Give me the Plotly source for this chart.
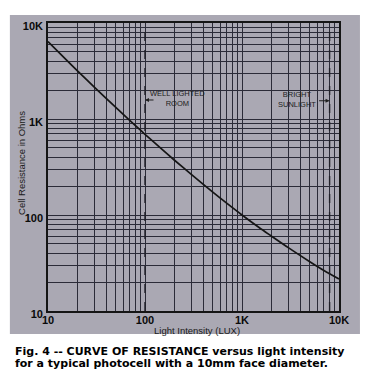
import plotly.graph_objects as go

# Data
lux = [10, 15, 20, 30, 50, 70, 100, 150, 200, 300, 500, 700,
       1000, 1500, 2000, 3000, 5000, 7000, 10000]
resistance = [6400, 4250, 3190, 2150, 1320, 960, 693, 482, 374, 265, 173, 132,
              100, 74, 60.5, 45.7, 32.6, 26.4, 21.5]

major_vals = [10, 100, 1000, 10000]
major_text = ["10", "100", "1K", "10K"]
minor_vals = [m * d for d in (10, 100, 1000) for m in range(2, 10)]

ref_lux = [100, 8000]
ref_labels = ["WELL LIGHTED<br>ROOM", "BRIGHT<br>SUNLIGHT"]

x_title = "Light Intensity (LUX)"
y_title = "Cell Resistance in Ohms"
caption_lines = ["Fig. 4 -- CURVE OF RESISTANCE versus light intensity",
                 "for a typical photocell with a 10mm face diameter."]

GRID = "#2b2b38"
PAPER = "#aaa8b3"

fig = go.Figure()
fig.add_trace(go.Scatter(
    x=lux, y=resistance, mode="lines",
    line=dict(color="#151515", width=1.7, shape="spline", smoothing=0.8),
    hoverinfo="skip", showlegend=False))

for xv in ref_lux:
    fig.add_vline(x=xv, line=dict(color="#202028", width=1.4, dash="dash"), layer="above")

axis_common = dict(
    type="log", range=[1, 4], tickmode="array", tickvals=major_vals,
    ticktext=["<b>%s</b>" % t for t in major_text],
    showgrid=True, gridcolor=GRID, gridwidth=1.2,
    showline=True, linecolor="#151515", linewidth=1.6, mirror=True,
    ticks="", zeroline=False, automargin=False,
    tickfont=dict(family="Liberation Sans", size=11, color="#0a0a0a"),
    minor=dict(tickvals=minor_vals, showgrid=True, gridcolor=GRID, gridwidth=1.1, ticks=""),
)

fig.update_xaxes(**axis_common, ticklabelstandoff=-2)
fig.update_yaxes(**axis_common, ticklabelstandoff=1, ticklabelshift=3)

# grey photographed page background
fig.add_shape(type="rect", xref="paper", yref="paper", x0=-0.131, x1=1.072, y0=-0.08, y1=1.028,
              fillcolor=PAPER, line=dict(width=0), layer="below")

# axis titles
fig.add_annotation(x=0.512, y=-0.066, xref="paper", yref="paper", text=x_title, showarrow=False,
                   xanchor="center", yanchor="middle",
                   font=dict(family="Liberation Sans", size=9.5, color="#1a1a1a"))
fig.add_annotation(x=-0.0893, y=0.514, xref="paper", yref="paper", text=y_title, showarrow=False,
                   xanchor="center", yanchor="middle", textangle=-90,
                   font=dict(family="Liberation Sans", size=9.5, color="#1a1a1a"))

# reference annotations
fig.add_annotation(x=2.34, y=3.214, xref="x", yref="y", text=ref_labels[0], showarrow=False,
                   font=dict(family="Liberation Sans", size=7.5, color="#202020"), align="center")
fig.add_annotation(x=2.0, y=3.198, xref="x", yref="y", text="", showarrow=True,
                   ax=10, ay=0, arrowhead=2, arrowsize=0.8, arrowwidth=1, arrowcolor="#202020")
fig.add_annotation(x=3.567, y=3.208, xref="x", yref="y", text=ref_labels[1], showarrow=False,
                   font=dict(family="Liberation Sans", size=7.5, color="#202020"), align="center")
fig.add_annotation(x=3.903, y=3.19, xref="x", yref="y", text="", showarrow=True,
                   ax=-12, ay=0, arrowhead=2, arrowsize=0.8, arrowwidth=1, arrowcolor="#202020")

# caption
for text, yp in zip(caption_lines, [-0.1406, -0.1823]):
    fig.add_annotation(x=-0.12, y=yp, xref="paper", yref="paper", xanchor="left", yanchor="middle",
                       text="<b>" + text + "</b>", showarrow=False, align="left",
                       font=dict(family="DejaVu Sans", size=11, color="#000000"))

fig.update_layout(
    width=370, height=384,
    margin=dict(l=48, r=31, t=23, b=73),
    paper_bgcolor="white", plot_bgcolor="rgba(0,0,0,0)",
    showlegend=False,
)

fig.write_html("out.html", config={"displayModeBar": False},
               post_script="document.body.style.margin='0';")
